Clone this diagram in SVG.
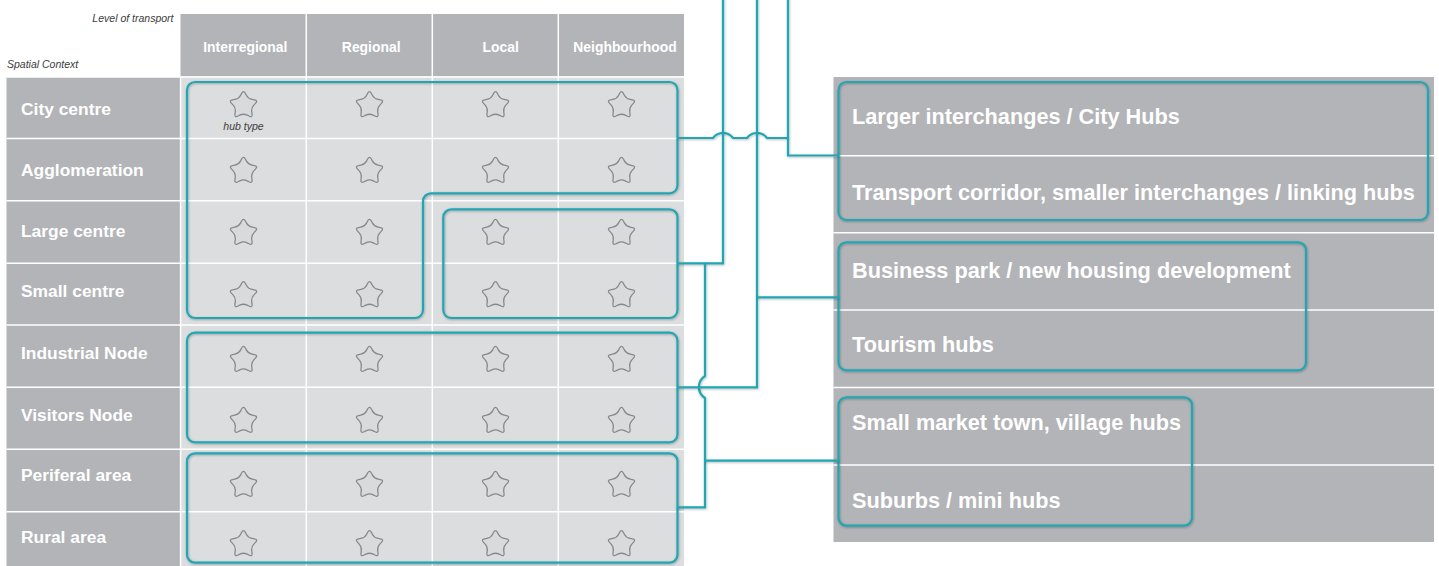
<svg xmlns="http://www.w3.org/2000/svg" width="1439" height="566" viewBox="0 0 1439 566">
<defs>
<style>
.hdr{font-family:'Liberation Sans',Arial,sans-serif;font-weight:bold;font-size:13.9px;fill:#fff;text-anchor:middle}
.lbl{font-family:'Liberation Sans',Arial,sans-serif;font-weight:bold;font-size:17.4px;fill:#fff}
.pnl{font-family:'Liberation Sans',Arial,sans-serif;font-weight:bold;font-size:21.7px;fill:#fff}
.it{font-family:'Liberation Sans',Arial,sans-serif;font-style:italic;font-size:10.5px;fill:#3c3c3c}
.teal{fill:none;stroke:#22a6b3;stroke-width:2.2;filter:url(#sh)}
.star{fill:#d9dadc;stroke:#87888b;stroke-width:1.1}
.sep{stroke:#fff;stroke-width:1.5}
</style>
<filter id="sh" filterUnits="userSpaceOnUse" x="0" y="0" width="1439" height="566">
<feDropShadow dx="0.6" dy="0.8" stdDeviation="0.9" flood-color="#000" flood-opacity="0.3"/>
</filter>
<path id="star" class="star" transform="scale(1.15)" d="M 1.646 -10.365 L 2.468 -8.798 Q 4.114 -5.663 7.604 -5.067 L 9.349 -4.768 Q 12.839 -4.172 10.366 -1.638 L 9.130 -0.371 Q 6.657 2.163 7.168 5.667 L 7.424 7.418 Q 7.935 10.922 4.761 9.353 L 3.174 8.569 Q 0 7 -3.174 8.569 L -4.761 9.353 Q -7.935 10.922 -7.424 7.418 L -7.168 5.667 Q -6.657 2.163 -9.130 -0.371 L -10.366 -1.638 Q -12.839 -4.172 -9.349 -4.768 L -7.604 -5.067 Q -4.114 -5.663 -2.468 -8.798 L -1.646 -10.365 Q 0 -13.5 1.646 -10.365 Z"/>
</defs>
<rect x="0" y="0" width="1439" height="566" fill="#fff"/>

<g id="matrix">
<rect x="180.5" y="14" width="503.5" height="62.5" fill="#b3b4b7"/>
<rect x="180.5" y="77" width="503.5" height="489" fill="#dcdddf"/>
<rect x="6.5" y="77" width="173.5" height="489" fill="#b3b4b7"/>
<g class="sep">
<line x1="6.5" y1="77" x2="684" y2="77"/>
<line x1="6.5" y1="138.5" x2="684" y2="138.5"/>
<line x1="6.5" y1="200.7" x2="684" y2="200.7"/>
<line x1="6.5" y1="263.2" x2="684" y2="263.2"/>
<line x1="6.5" y1="325" x2="684" y2="325"/>
<line x1="6.5" y1="387.3" x2="684" y2="387.3"/>
<line x1="6.5" y1="449.2" x2="684" y2="449.2"/>
<line x1="6.5" y1="511.7" x2="684" y2="511.7"/>
<line x1="180.6" y1="77" x2="180.6" y2="566"/>
<line x1="306.3" y1="14" x2="306.3" y2="566"/>
<line x1="432.3" y1="14" x2="432.3" y2="566"/>
<line x1="558.3" y1="14" x2="558.3" y2="566"/>
</g>
<text class="it" x="173.5" y="22" text-anchor="end">Level of transport</text>
<text class="it" x="7" y="68">Spatial Context</text>
<g id="col-headers">
<text class="hdr" x="245.3" y="51.5">Interregional</text>
<text class="hdr" x="371.2" y="51.5">Regional</text>
<text class="hdr" x="500.7" y="51.5">Local</text>
<text class="hdr" x="625" y="51.5">Neighbourhood</text>
</g>
<g id="row-labels">
<text class="lbl" x="21" y="114.5">City centre</text>
<text class="lbl" x="21" y="175.7">Agglomeration</text>
<text class="lbl" x="21" y="236.7">Large centre</text>
<text class="lbl" x="21" y="297.3">Small centre</text>
<text class="lbl" x="21" y="359.3">Industrial Node</text>
<text class="lbl" x="21" y="420.7">Visitors Node</text>
<text class="lbl" x="21" y="481">Periferal area</text>
<text class="lbl" x="21" y="542.7">Rural area</text>
</g>
<g id="stars">
<use href="#star" x="243.5" y="105.3"/><use href="#star" x="369.5" y="105.3"/><use href="#star" x="495.5" y="105.3"/><use href="#star" x="621.5" y="105.3"/>
<use href="#star" x="243.5" y="171"/><use href="#star" x="369.5" y="171"/><use href="#star" x="495.5" y="171"/><use href="#star" x="621.5" y="171"/>
<use href="#star" x="243.5" y="233"/><use href="#star" x="369.5" y="233"/><use href="#star" x="495.5" y="233"/><use href="#star" x="621.5" y="233"/>
<use href="#star" x="243.5" y="295.3"/><use href="#star" x="369.5" y="295.3"/><use href="#star" x="495.5" y="295.3"/><use href="#star" x="621.5" y="295.3"/>
<use href="#star" x="243.5" y="360"/><use href="#star" x="369.5" y="360"/><use href="#star" x="495.5" y="360"/><use href="#star" x="621.5" y="360"/>
<use href="#star" x="243.5" y="421"/><use href="#star" x="369.5" y="421"/><use href="#star" x="495.5" y="421"/><use href="#star" x="621.5" y="421"/>
<use href="#star" x="243.5" y="485"/><use href="#star" x="369.5" y="485"/><use href="#star" x="495.5" y="485"/><use href="#star" x="621.5" y="485"/>
<use href="#star" x="243.5" y="544.3"/><use href="#star" x="369.5" y="544.3"/><use href="#star" x="495.5" y="544.3"/><use href="#star" x="621.5" y="544.3"/>
</g>
<text class="it" x="243.5" y="129.5" text-anchor="middle">hub type</text>
</g>

<g id="group-city">
<path class="teal" d="M 195 82 H 669.5 A 8 8 0 0 1 677.5 90 V 185.3 A 8 8 0 0 1 669.5 193.3 H 431 A 8 8 0 0 0 423 201.3 V 310 A 8 8 0 0 1 415 318 H 195 A 8 8 0 0 1 187 310 V 90 A 8 8 0 0 1 195 82 Z"/>
</g>
<g id="group-centres-local">
<rect class="teal" x="443.3" y="209.3" width="234.2" height="108.7" rx="8"/>
</g>
<g id="group-nodes">
<rect class="teal" x="187" y="332.7" width="490.5" height="109.6" rx="8"/>
</g>
<g id="group-rural">
<rect class="teal" x="187" y="453.3" width="490.5" height="109.4" rx="8"/>
</g>

<g id="hub-panel">
<rect x="833.5" y="77" width="600.5" height="465" fill="#b3b4b7"/>
<line class="sep" x1="833.5" y1="155.7" x2="1434" y2="155.7"/>
<line class="sep" x1="833.5" y1="232.7" x2="1434" y2="232.7" stroke-width="2"/>
<line class="sep" x1="833.5" y1="310" x2="1434" y2="310"/>
<line class="sep" x1="833.5" y1="387.6" x2="1434" y2="387.6" stroke-width="2"/>
<line class="sep" x1="833.5" y1="465" x2="1434" y2="465"/>
</g>
<g id="hubs-city">
<rect class="teal" x="838.5" y="82" width="589.5" height="138" rx="8"/>
<text class="pnl" x="852" y="124">Larger interchanges / City Hubs</text>
<text class="pnl" x="852" y="200">Transport corridor, smaller interchanges / linking hubs</text>
</g>
<g id="hubs-business">
<rect class="teal" x="838.5" y="242.3" width="467.5" height="128" rx="8"/>
<text class="pnl" x="852" y="277.5">Business park / new housing development</text>
<text class="pnl" x="852" y="351.5">Tourism hubs</text>
</g>
<g id="hubs-town">
<rect class="teal" x="838.5" y="397.3" width="353.5" height="128.4" rx="8"/>
<text class="pnl" x="852" y="430">Small market town, village hubs</text>
<text class="pnl" x="852" y="508">Suburbs / mini hubs</text>
</g>

<g id="connectors">
<path class="teal" d="M 677.5 138 H 713 A 12.5 12.5 0 0 1 733 138 H 747 A 12.5 12.5 0 0 1 767 138 H 788"/>
<path class="teal" d="M 788 -2 V 155.5 H 838.5"/>
<path class="teal" d="M 723 -2 V 263.3 H 677.5"/>
<path class="teal" d="M 705 263.3 V 376 A 13 13 0 0 0 705 398 V 507.3 H 677.5"/>
<path class="teal" d="M 705 460.7 H 838.5"/>
<path class="teal" d="M 757 -2 V 387.3 H 677.5"/>
<path class="teal" d="M 757 297.3 H 838.5"/>
</g>
</svg>
